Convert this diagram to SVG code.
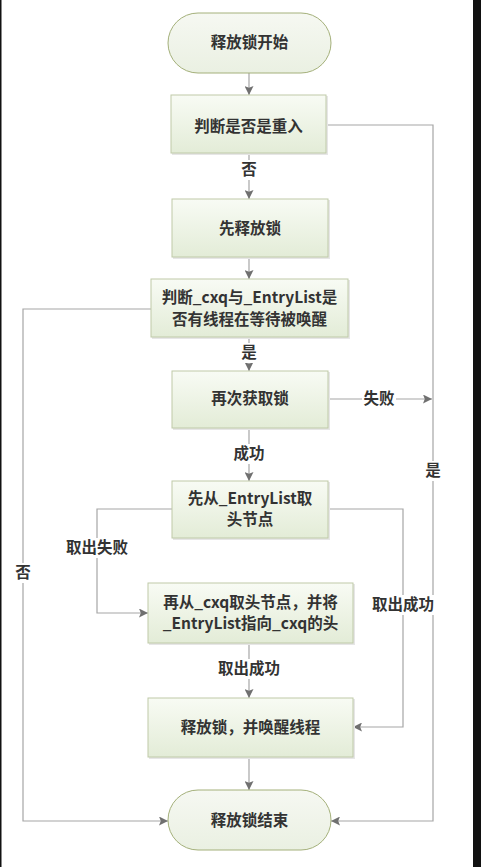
<svg xmlns="http://www.w3.org/2000/svg" width="481" height="867" viewBox="0 0 481 867">
<style>
.box{fill:url(#g);stroke:#bfcaa8;stroke-width:1}
.term{fill:url(#gt);stroke:#a4b07a;stroke-width:1}
.sh{fill:#e6e6e6}
.t{font-family:"Noto Sans CJK SC","Noto Sans",sans-serif;font-size:15.5px;font-weight:600;fill:#333;text-anchor:middle}
.c{fill:none;stroke:#a6a6a6;stroke-width:1.2}
.lb{fill:#fff}
</style>
<defs>
<linearGradient id="g" x1="0" y1="0" x2="0" y2="1"><stop offset="0" stop-color="#f8fbf4"/><stop offset="1" stop-color="#e3ecd7"/></linearGradient>
<linearGradient id="gt" x1="0" y1="0" x2="0" y2="1"><stop offset="0" stop-color="#f6f8f2"/><stop offset="1" stop-color="#eaf0e2"/></linearGradient>
<marker id="a" viewBox="0 0 10 10" refX="10" refY="5" markerWidth="9" markerHeight="9" markerUnits="userSpaceOnUse" orient="auto"><path d="M0,0L10,5L0,10L2,5Z" fill="#707070"/></marker>
</defs>
<rect x="0" y="0" width="481" height="867" fill="#fff"/>
<rect x="0" y="0" width="1.5" height="867" fill="#111"/>
<rect x="473" y="0" width="8" height="867" fill="#111"/>

<g id="connectors">
<path class="c" d="M249,73V95" marker-end="url(#a)"/>
<path class="c" d="M249,153V199" marker-end="url(#a)"/>
<path class="c" d="M326,125H433V821H331" marker-end="url(#a)"/>
<path class="c" d="M249,257V279" marker-end="url(#a)"/>
<path class="c" d="M151,309H23V821H168" marker-end="url(#a)"/>
<path class="c" d="M249,337V371" marker-end="url(#a)"/>
<path class="c" d="M328,399H432" marker-end="url(#a)"/>
<path class="c" d="M249,428V481" marker-end="url(#a)"/>
<path class="c" d="M172,509H97V613H148" marker-end="url(#a)"/>
<path class="c" d="M328,509H403V727H353" marker-end="url(#a)"/>
<path class="c" d="M249,643V698" marker-end="url(#a)"/>
<path class="c" d="M249,757V790" marker-end="url(#a)"/>
<rect class="lb" x="240" y="160" width="18" height="20"/><text class="t" x="249" y="175">否</text>
<rect class="lb" x="424" y="461" width="18" height="20"/><text class="t" x="433" y="476">是</text>
<rect class="lb" x="14" y="563" width="18" height="20"/><text class="t" x="23" y="578">否</text>
<rect class="lb" x="240" y="343" width="18" height="20"/><text class="t" x="249" y="358">是</text>
<rect class="lb" x="362" y="389" width="34" height="20"/><text class="t" x="379" y="404">失败</text>
<rect class="lb" x="232" y="444" width="34" height="20"/><text class="t" x="249" y="459">成功</text>
<rect class="lb" x="66" y="538" width="62" height="20"/><text class="t" x="97" y="553">取出失败</text>
<rect class="lb" x="372" y="595" width="62" height="20"/><text class="t" x="403" y="610">取出成功</text>
<rect class="lb" x="218" y="659" width="62" height="20"/><text class="t" x="249" y="674">取出成功</text>
</g>

<g id="start"><rect class="term" x="168" y="13" width="163" height="60" rx="30"/><text class="t" x="249.5" y="48">释放锁开始</text></g>
<g id="reentry"><rect class="sh" x="172" y="96" width="156" height="59"/><rect class="box" x="171" y="95" width="155" height="58"/><text class="t" x="248.5" y="132">判断是否是重入</text></g>
<g id="release"><rect class="sh" x="173" y="200" width="157" height="59"/><rect class="box" x="172" y="199" width="156" height="58"/><text class="t" x="250" y="234">先释放锁</text></g>
<g id="check"><rect class="sh" x="152" y="280" width="198" height="59"/><rect class="box" x="151" y="279" width="197" height="58"/><text class="t" x="249.5" y="303">判断_cxq与_EntryList是</text><text class="t" x="249.5" y="325">否有线程在等待被唤醒</text></g>
<g id="reacquire"><rect class="sh" x="173" y="372" width="157" height="58"/><rect class="box" x="172" y="371" width="156" height="57"/><text class="t" x="250" y="404">再次获取锁</text></g>
<g id="entrylist"><rect class="sh" x="173" y="482" width="157" height="58"/><rect class="box" x="172" y="481" width="156" height="57"/><text class="t" x="250" y="504">先从_EntryList取</text><text class="t" x="250" y="525">头节点</text></g>
<g id="cxq"><rect class="sh" x="149" y="584" width="206" height="61"/><rect class="box" x="148" y="583" width="205" height="60"/><text class="t" x="250.5" y="608">再从_cxq取头节点，并将</text><text class="t" x="250.5" y="629">_EntryList指向_cxq的头</text></g>
<g id="wake"><rect class="sh" x="149" y="699" width="206" height="60"/><rect class="box" x="148" y="698" width="205" height="59"/><text class="t" x="250.5" y="733">释放锁，并唤醒线程</text></g>
<g id="end"><rect class="term" x="168" y="790" width="163" height="60" rx="30"/><text class="t" x="249.5" y="826">释放锁结束</text></g>
</svg>
